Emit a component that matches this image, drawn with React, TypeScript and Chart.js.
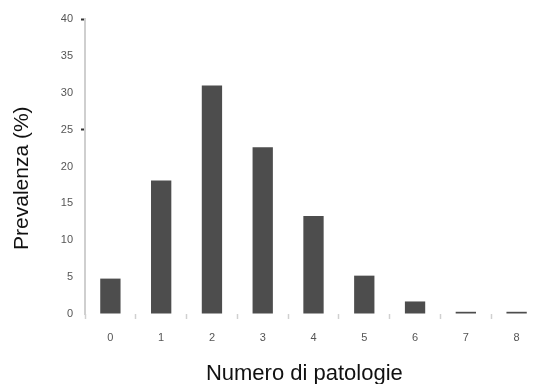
import React, { useEffect, useRef } from "react";
import { Chart, registerables } from "chart.js";

Chart.register(...registerables);

const categories = ["0", "1", "2", "3", "4", "5", "6", "7", "8"];
const prevalence = [4.8, 18.1, 31.0, 22.6, 13.3, 5.2, 1.7, 0.3, 0.3];
const yMin = 0;
const yMax = 40;
const yStep = 5;
const xTitle = "Numero di patologie";
const yTitle = "Prevalenza (%)";
const markedYTicks = [40, 25];

export default function App() {
  const ref = useRef<HTMLCanvasElement | null>(null);

  useEffect(() => {
    if (!ref.current) return;
    const font = "'Liberation Sans', Arial, sans-serif";
    const chart = new Chart(ref.current, {
      type: "bar",
      data: {
        labels: categories,
        datasets: [
          {
            data: prevalence,
            backgroundColor: "#4d4d4d",
            borderWidth: 0,
            barPercentage: 0.4,
            categoryPercentage: 1,
          },
        ],
      },
      options: {
        animation: false,
        responsive: false,
        maintainAspectRatio: false,
        layout: { padding: { top: 19, right: 18, bottom: 0, left: 0 } },
        plugins: { legend: { display: false }, tooltip: { enabled: false } },
        scales: {
          x: {
            grid: {
              offset: true,
              drawOnChartArea: false,
              tickLength: 5,
              tickColor: "#d0d0d0",
              tickWidth: 1.5,
            },
            border: { display: false },
            ticks: {
              color: "#555",
              font: { family: font, size: 11 },
              padding: 12,
              maxRotation: 0,
            },
            title: {
              display: true,
              text: xTitle + "\u00a0\u00a0\u00a0",
              color: "#111",
              font: { family: font, size: 22, lineHeight: 1 },
              padding: { top: 0, bottom: -1 },
            },
            afterFit: (s: any) => {
              s.height = 70;
            },
          },
          y: {
            min: yMin,
            max: yMax,
            ticks: {
              stepSize: yStep,
              color: "#555",
              font: { family: font, size: 11 },
              padding: 8,
            },
            grid: {
              drawOnChartArea: false,
              tickLength: 4,
              tickColor: (ctx: any) =>
                ctx.tick && markedYTicks.includes(ctx.tick.value) ? "#333" : "rgba(0,0,0,0)",
              tickWidth: 2,
            },
            border: { display: true, color: "#cfcfcf", width: 2 },
            title: {
              display: true,
              text: yTitle + "\u00a0\u00a0\u00a0\u00a0",
              color: "#111",
              font: { family: font, size: 21 },
              padding: { top: 10, bottom: 0 },
            },
            afterFit: (s: any) => {
              s.width = 85;
            },
          },
        },
      },
    });
    return () => chart.destroy();
  }, []);

  return (
    <div
      style={{
        position: "fixed",
        left: 0,
        top: 0,
        width: 537,
        height: 384,
        overflow: "hidden",
        background: "#fff",
      }}
    >
      <canvas ref={ref} width={560} height={384} style={{ width: 560, height: 384, display: "block" }} />
    </div>
  );
}
